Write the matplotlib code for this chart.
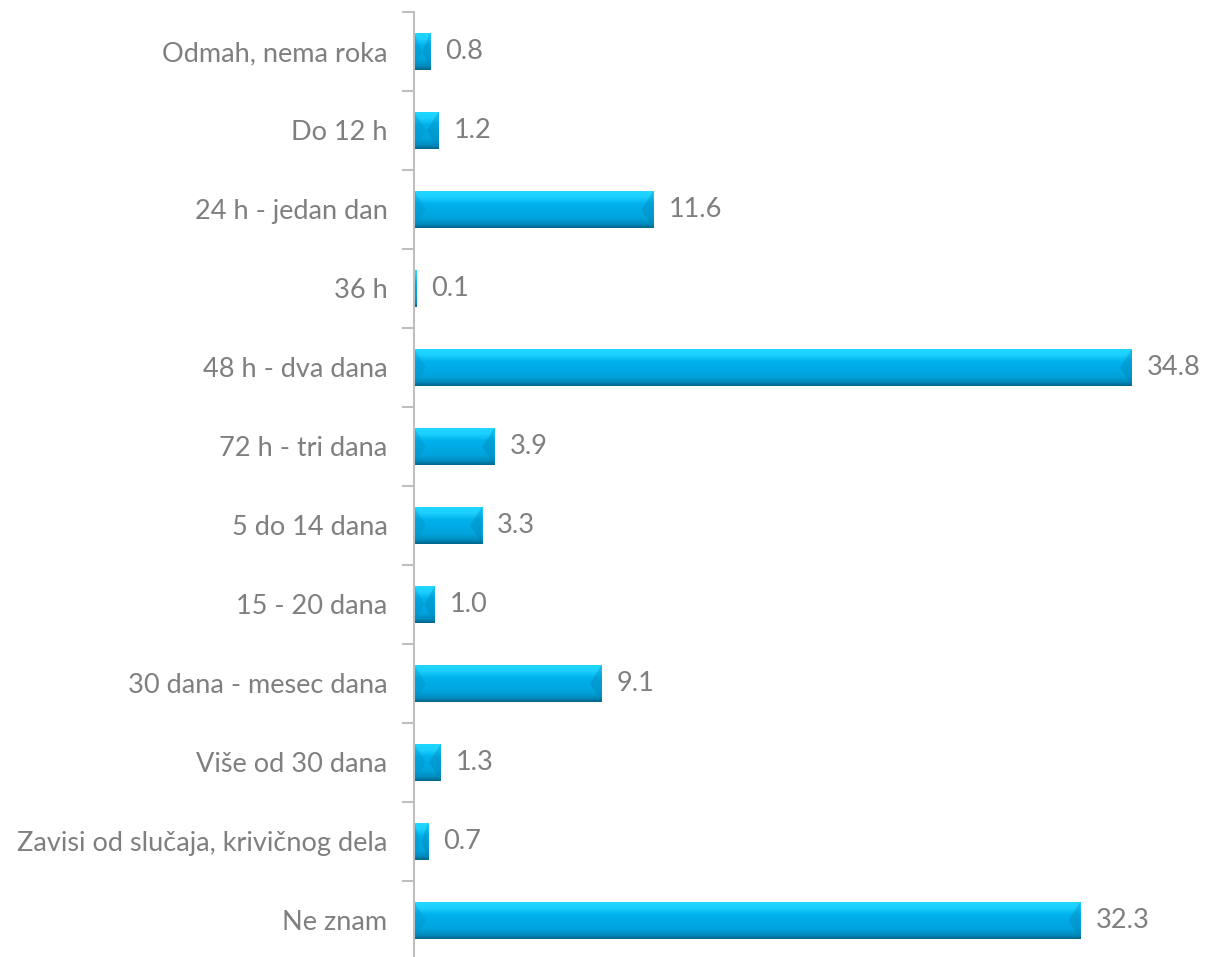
import matplotlib
matplotlib.use("Agg")
import matplotlib.pyplot as plt
import numpy as np
from matplotlib.colors import LinearSegmentedColormap
from matplotlib.patches import Polygon

categories = [
    "Odmah, nema roka",
    "Do 12 h",
    "24 h - jedan dan",
    "36 h",
    "48 h - dva dana",
    "72 h - tri dana",
    "5 do 14 dana",
    "15 - 20 dana",
    "30 dana - mesec dana",
    "Više od 30 dana",
    "Zavisi od slučaja, krivičnog dela",
    "Ne znam",
]
values = [0.8, 1.2, 11.6, 0.1, 34.8, 3.9, 3.3, 1.0, 9.1, 1.3, 0.7, 32.3]

plt.rcParams["font.family"] = ["Lato", "DejaVu Sans"]
TEXT = "#7f7f7f"
AXIS = "#bfbfbf"

# vertical gradient: light top edge -> mid blue -> dark bottom edge
bar_cmap = LinearSegmentedColormap.from_list(
    "bevel",
    [(0.0, "#22d8ff"), (0.18, "#1ccfff"), (0.35, "#00b2ec"),
     (0.75, "#00a3dc"), (0.9, "#008bbd"), (1.0, "#00668a")],
)

fig = plt.figure(figsize=(12.06, 9.57), dpi=100)
ax = fig.add_axes([414 / 1206, -0.003, 784 / 1206, 0.9905])

n = len(categories)
y = np.arange(n)
height = 0.47
bars = ax.barh(y, values, height=height, color="#00aee8", edgecolor="none", zorder=2)

ax.set_xlim(0, 38)
ax.set_ylim(n - 0.5, -0.5)

# pixel -> data conversion for the bevelled ends
px_per_unit = 784 / 38
bevel = 12 / px_per_unit
grad = np.linspace(0, 1, 64).reshape(-1, 1)
for rect, v in zip(bars, values):
    x0, y0 = rect.get_x(), rect.get_y()
    w, h = rect.get_width(), rect.get_height()
    im = ax.imshow(grad, cmap=bar_cmap, aspect="auto",
                   extent=(x0, x0 + w, y0 + h, y0), zorder=3)
    im.set_clip_path(rect)
    b = min(bevel, w / 2)
    left = Polygon([(x0, y0), (x0 + b, y0 + h / 2), (x0, y0 + h)],
                   closed=True, facecolor="#0089bd", alpha=0.3,
                   edgecolor="none", zorder=4)
    right = Polygon([(x0 + w, y0), (x0 + w - b, y0 + h / 2), (x0 + w, y0 + h)],
                    closed=True, facecolor="#0079a8", alpha=0.3,
                    edgecolor="none", zorder=4)
    ax.add_patch(left)
    ax.add_patch(right)
    ax.text(v + 15 / px_per_unit, y0 + h / 2, f"{v:.1f}", va="center", ha="left",
            fontsize=19.5, color=TEXT)

ax.set_yticks(y)
ax.set_yticklabels(categories, fontsize=19.5, color=TEXT)
ax.set_yticks(np.arange(-0.5, n, 1.0), minor=True)
ax.tick_params(axis="y", which="major", length=0, pad=19)
ax.tick_params(axis="y", which="minor", length=9, width=1.5, color=AXIS)
ax.set_xticks([])

for side in ["top", "right", "bottom"]:
    ax.spines[side].set_visible(False)
ax.spines["left"].set_color(AXIS)
ax.spines["left"].set_linewidth(1.5)
ax.spines["left"].set_zorder(5)

fig.savefig("out.png", dpi=100)
